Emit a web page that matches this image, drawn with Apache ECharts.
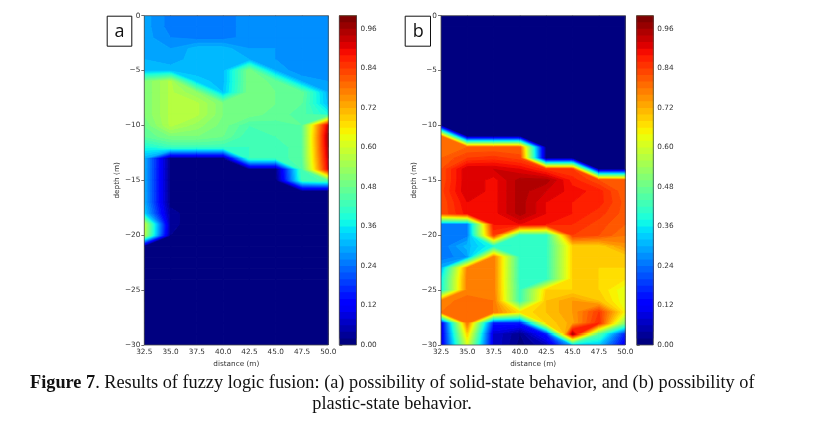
<!DOCTYPE html>
<html>
<head>
<meta charset="utf-8">
<style>html,body{margin:0;padding:0;background:#fff}#chart{width:826px;height:431px}</style>
<script src="https://cdn.jsdelivr.net/npm/echarts@6/dist/echarts.min.js"></script>
</head>
<body>
<div id="chart"></div>
<script>
// Sampling positions of the fuzzy fusion grid
const distances = [32.5, 35, 37.5, 40, 42.5, 45, 47.5, 50];
const depths = [0,-1,-2,-3,-4,-5,-6,-7,-8,-9,-10,-11,-12,-13,-14,-15,-16,-17,-18,-19,-20,-21,-22,-23,-24,-25,-26,-27,-28,-29,-30];

// Possibility of solid-state behaviour, one row per depth
const solidState = [
  [.29,.25,.25,.25,.27,.28,.26,.26],
  [.29,.25,.25,.25,.27,.28,.26,.26],
  [.29,.26,.25,.25,.27,.28,.26,.26],
  [.30,.28,.31,.31,.28,.28,.26,.26],
  [.30,.29,.31,.31,.30,.28,.26,.26],
  [.31,.31,.31,.31,.50,.30,.26,.27],
  [.50,.565,.33,.31,.50,.47,.30,.28],
  [.50,.565,.52,.32,.50,.48,.47,.30],
  [.50,.565,.565,.50,.50,.48,.46,.31],
  [.50,.565,.565,.50,.49,.47,.45,.38],
  [.48,.565,.53,.49,.44,.45,.46,.92],
  [.46,.50,.50,.48,.42,.44,.46,.95],
  [.38,.42,.42,.42,.42,.42,.46,.94],
  [.30,.01,.01,.01,.42,.42,.46,.92],
  [.30,.01,0,0,.01,.01,.44,.90],
  [.30,.01,0,0,0,0,.42,.45],
  [.30,.01,0,0,0,0,0,0],
  [.30,.01,0,0,0,0,0,0],
  [.33,.03,0,0,0,0,0,0],
  [.58,.03,0,0,0,0,0,0],
  [.57,.02,0,0,0,0,0,0],
  [0,0,0,0,0,0,0,0],
  [0,0,0,0,0,0,0,0],
  [0,0,0,0,0,0,0,0],
  [0,0,0,0,0,0,0,0],
  [0,0,0,0,0,0,0,0],
  [0,0,0,0,0,0,0,0],
  [0,0,0,0,0,0,0,0],
  [0,0,0,0,0,0,0,0],
  [0,0,0,0,0,0,0,0],
  [0,0,0,0,0,0,0,0]
];

// Possibility of plastic-state behaviour, one row per depth
const plasticState = [
  [0,0,0,0,0,0,0,0],
  [0,0,0,0,0,0,0,0],
  [0,0,0,0,0,0,0,0],
  [0,0,0,0,0,0,0,0],
  [0,0,0,0,0,0,0,0],
  [0,0,0,0,0,0,0,0],
  [0,0,0,0,0,0,0,0],
  [0,0,0,0,0,0,0,0],
  [0,0,0,0,0,0,0,0],
  [0,0,0,0,0,0,0,0],
  [0,0,0,0,0,0,0,0],
  [.78,0,0,0,0,0,0,0],
  [.79,.80,.80,.80,0,0,0,0],
  [.80,.84,.85,.83,0,0,0,0],
  [.82,.92,.92,.90,.85,.84,0,0],
  [.82,.92,.89,.95,.95,.87,.82,.80],
  [.83,.92,.89,.95,.92,.89,.87,.80],
  [.82,.90,.89,.95,.90,.88,.87,.81],
  [.82,.89,.89,.95,.90,.88,.85,.81],
  [.25,.25,.88,.90,.88,.86,.83,.80],
  [.24,.25,.84,.40,.40,.84,.82,.78],
  [.24,.31,.38,.41,.41,.68,.68,.75],
  [.24,.28,.77,.41,.41,.68,.68,.68],
  [.30,.76,.77,.41,.41,.68,.68,.68],
  [.36,.77,.77,.41,.41,.68,.68,.66],
  [.37,.77,.77,.42,.68,.68,.68,.62],
  [.77,.79,.78,.42,.70,.74,.70,.62],
  [.78,.79,.78,.66,.70,.74,.84,.64],
  [.08,.78,.15,.15,.68,.73,.86,.50],
  [.08,.68,.08,.02,.15,.95,.45,.15],
  [.08,.60,.08,.01,.06,.30,.32,.10]
];

// Colour bar ticks and contour levels
const colorTicks = [0, .12, .24, .36, .48, .60, .72, .84, .96];
const levels = Array.from({length: 51}, (_, i) => i / 50);
const xTicks = { min: 32.5, max: 50, interval: 2.5 };
const yTicks = { min: -30, max: 0, interval: 5 };

const GRAY = '#4d4d4d';
const FONT = 'DejaVu Sans';
const SIZE = 7.3;

// The jet colour ramp, as piecewise linear channels
const JET = {
  r: [[0,0],[.35,0],[.66,1],[.89,1],[1,.5]],
  g: [[0,0],[.125,0],[.375,1],[.64,1],[.91,0],[1,0]],
  b: [[0,.5],[.11,1],[.34,1],[.65,0],[1,0]]
};
function channel(stops, t) {
  for (let i = 1; i < stops.length; i++) {
    if (t <= stops[i][0]) {
      const [x0, y0] = stops[i - 1], [x1, y1] = stops[i];
      return y0 + (y1 - y0) * (t - x0) / (x1 - x0);
    }
  }
  return stops[stops.length - 1][1];
}
function jet(t) {
  const c = k => Math.round(255 * channel(JET[k], t));
  return `rgb(${c('r')},${c('g')},${c('b')})`;
}
const bandColors = levels.slice(0, -1).map((_, i) => jet(i / (levels.length - 2)));

// Clip a polygon of [x, y, v] vertices against a level, interpolating along its edges
function clipPoly(pts, limit, keepAbove) {
  const out = [];
  for (let i = 0; i < pts.length; i++) {
    const a = pts[i], b = pts[(i + 1) % pts.length];
    const ina = keepAbove ? a[2] >= limit : a[2] <= limit;
    const inb = keepAbove ? b[2] >= limit : b[2] <= limit;
    if (ina) out.push(a);
    if (ina !== inb) {
      const f = (limit - a[2]) / (b[2] - a[2]);
      out.push([a[0] + (b[0] - a[0]) * f, a[1] + (b[1] - a[1]) * f, limit]);
    }
  }
  return out;
}

// One grid cell: fill the part of the quad lying in each contour band
function renderCell(params, api) {
  const x0 = api.value(0), y0 = api.value(1), x1 = api.value(2), y1 = api.value(3);
  const quad = [[x0, y0, api.value(4)], [x1, y0, api.value(5)], [x1, y1, api.value(6)], [x0, y1, api.value(7)]];
  const vs = quad.map(p => p[2]);
  const vmin = Math.min(...vs), vmax = Math.max(...vs);
  const children = [];
  for (let i = 0; i < levels.length - 1; i++) {
    const lo = levels[i], hi = levels[i + 1];
    if (hi <= vmin) continue;
    if (lo > vmax || (lo === vmax && vmin !== vmax)) break;
    let poly = clipPoly(quad, lo, true);
    if (poly.length) poly = clipPoly(poly, hi, false);
    if (poly.length < 3) continue;
    children.push({
      type: 'polygon',
      shape: { points: poly.map(p => api.coord([p[0], p[1]])) },
      style: { fill: bandColors[i], stroke: bandColors[i], lineWidth: 1 },
      silent: true
    });
  }
  return { type: 'group', children };
}

function cellData(rows) {
  const out = [];
  for (let r = 0; r < depths.length - 1; r++) {
    for (let k = 0; k < distances.length - 1; k++) {
      out.push([distances[k], depths[r], distances[k + 1], depths[r + 1],
        rows[r][k], rows[r][k + 1], rows[r + 1][k + 1], rows[r + 1][k]]);
    }
  }
  return out;
}

// Colour bar band: painted from its lower level up to the top, later bands cover the rest
function renderBand(params, api) {
  const p0 = api.coord([0, api.value(0)]), p1 = api.coord([1, 1]);
  return {
    type: 'rect',
    shape: { x: p0[0], y: p1[1], width: p1[0] - p0[0], height: p0[1] - p1[1] },
    style: { fill: bandColors[params.dataIndex] },
    silent: true
  };
}

// Outline of a plotting area, drawn above the filled contours
function renderFrame(params, api) {
  const p0 = api.coord([api.value(0), api.value(1)]), p1 = api.coord([api.value(2), api.value(3)]);
  return {
    type: 'rect',
    shape: { x: p0[0], y: p1[1], width: p1[0] - p0[0], height: p0[1] - p1[1] },
    style: { fill: 'none', stroke: GRAY, lineWidth: 0.8 },
    silent: true, z2: 100
  };
}

const minus = s => String(s).replace('-', '\u2212');
const tickStyle = {
  axisLine: { show: false },
  axisTick: { show: true, length: 3, lineStyle: { color: GRAY, width: 0.8 } },
  splitLine: { show: false }
};
const labelStyle = { color: '#333', fontFamily: FONT, fontSize: SIZE };

const panels = [
  { rows: solidState, plot: [144.3, 328.3], bar: [339.3, 356.5] },
  { rows: plasticState, plot: [441, 625.3], bar: [636.7, 653.3] }
];
const TOP = 15.7, BOTTOM = 345;
const grids = [], xAxes = [], yAxes = [], seriesList = [];

panels.forEach(p => {
  const plotIdx = grids.length;
  grids.push({ left: p.plot[0], width: p.plot[1] - p.plot[0], top: TOP, height: BOTTOM - TOP });
  xAxes.push({
    gridIndex: plotIdx, type: 'value', ...xTicks, ...tickStyle,
    name: 'distance (m)', nameLocation: 'middle', nameGap: 16,
    nameTextStyle: labelStyle,
    axisLabel: { ...labelStyle, margin: 4, formatter: v => v.toFixed(1) }
  });
  yAxes.push({
    gridIndex: plotIdx, type: 'value', ...yTicks, ...tickStyle,
    name: 'depth (m)', nameLocation: 'middle', nameGap: 23,
    nameTextStyle: labelStyle,
    axisLabel: { ...labelStyle, margin: 4, formatter: v => minus(v) }
  });
  seriesList.push({
    type: 'custom', xAxisIndex: plotIdx, yAxisIndex: plotIdx, coordinateSystem: 'cartesian2d',
    renderItem: renderCell, data: cellData(p.rows), clip: true, silent: true, animation: false,
    encode: { x: [0, 2], y: [1, 3] }
  });
  seriesList.push({
    type: 'custom', xAxisIndex: plotIdx, yAxisIndex: plotIdx, coordinateSystem: 'cartesian2d',
    renderItem: renderFrame, data: [[xTicks.min, yTicks.min, xTicks.max, yTicks.max]],
    silent: true, animation: false, z: 5, encode: { x: [0, 2], y: [1, 3] }
  });

  const barIdx = grids.length;
  grids.push({ left: p.bar[0], width: p.bar[1] - p.bar[0], top: TOP, height: BOTTOM - TOP });
  xAxes.push({ gridIndex: barIdx, type: 'value', min: 0, max: 1, show: false });
  yAxes.push({
    gridIndex: barIdx, type: 'value', position: 'right', min: 0, max: 1,
    axisLine: { show: false }, splitLine: { show: false },
    axisTick: { show: true, length: 3, customValues: colorTicks, lineStyle: { color: GRAY, width: 0.8 } },
    axisLabel: { ...labelStyle, margin: 4, customValues: colorTicks, formatter: v => v.toFixed(2) }
  });
  seriesList.push({
    type: 'custom', xAxisIndex: barIdx, yAxisIndex: barIdx, coordinateSystem: 'cartesian2d',
    renderItem: renderBand, data: levels.slice(0, -1).map((l, i) => [l, levels[i + 1]]),
    silent: true, animation: false, clip: true, encode: { y: [0, 1] }
  });
  seriesList.push({
    type: 'custom', xAxisIndex: barIdx, yAxisIndex: barIdx, coordinateSystem: 'cartesian2d',
    renderItem: renderFrame, data: [[0, 0, 1, 1]], silent: true, animation: false, z: 5,
    encode: { x: [0, 2], y: [1, 3] }
  });
});

function panelTag(letter, left, width) {
  return [
    { type: 'rect', left, top: 15.7, shape: { width, height: 30 }, z: 20,
      style: { fill: '#fff', stroke: '#111', lineWidth: 1 } },
    { type: 'text', left: left + width / 2 - 4.5, top: 22.5, z: 21,
      style: { text: letter, fill: '#111', font: '18px "Open Sans"' } }
  ];
}

const CAPTION_FONT = '18.3px "Liberation Serif"';
const graphic = [
  ...panelTag('a', 106.7, 24.6),
  ...panelTag('b', 404.7, 25.3),
  { type: 'text', x: 30, y: 374, z: 20,
    style: {
      text: '{b|Figure 7}. Results of fuzzy logic fusion: (a) possibility of solid-state behavior, and (b) possibility of',
      font: CAPTION_FONT, fill: '#111',
      rich: { b: { font: 'bold 18.3px "Liberation Serif"', fill: '#111' } }
    } },
  { type: 'text', x: 392, y: 395, z: 20,
    style: { text: 'plastic-state behavior.', font: CAPTION_FONT, fill: '#111', align: 'center' } }
];

const chart = echarts.init(document.getElementById('chart'), null, { renderer: 'canvas' });
chart.setOption({
  animation: false,
  backgroundColor: '#fff',
  grid: grids, xAxis: xAxes, yAxis: yAxes, series: seriesList, graphic
});
</script>
</body>
</html>
